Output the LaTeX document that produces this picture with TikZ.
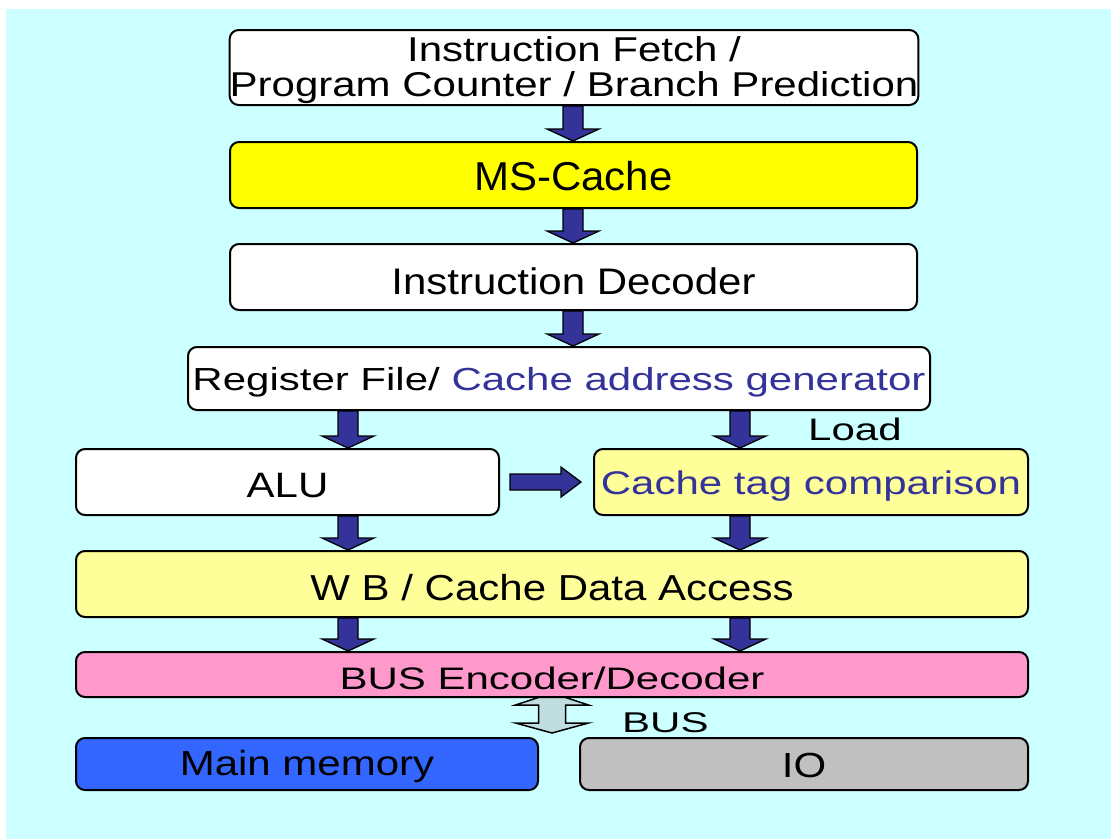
\documentclass[tikz,border=0pt]{standalone}
\usepackage{fontspec}
\setmainfont{Liberation Sans}
\usepackage{graphicx}
\usetikzlibrary{calc}

\definecolor{bgcyan}{HTML}{CCFFFF}
\definecolor{arrowblue}{HTML}{333399}
\definecolor{textblue}{HTML}{333399}
\definecolor{paleyellow}{HTML}{FFFF99}
\definecolor{brightyellow}{HTML}{FFFF00}
\definecolor{pinkfill}{HTML}{FF99CC}
\definecolor{memblue}{HTML}{3366FF}
\definecolor{iogray}{HTML}{C0C0C0}
\definecolor{busfill}{HTML}{C0DEDF}

% vertically squeezed label, lowered by #1 in its box (box size unchanged)
\newcommand\vs[3][4pt]{\raisebox{-#1}[\height][\depth]{\scalebox{1}[#2]{#3}}}
% vertically squeezed free label
\newcommand\vl[2]{\scalebox{1}[#1]{#2}}

% block arrow pointing down, from the bottom of #1 to the top of #2, at the x of #3
\newcommand\downblock[3]{%
  \draw[blockarrow]
    ($(#1.south -| #3)+(-10,0)$) -- ($(#1.south -| #3)+(10,0)$)
    -- ($(#2.north -| #3)+(10,-12)$) -- ($(#2.north -| #3)+(26,-12)$)
    -- (#2.north -| #3)
    -- ($(#2.north -| #3)+(-26,-12)$) -- ($(#2.north -| #3)+(-10,-12)$)
    -- cycle;}

\begin{document}
\begin{tikzpicture}[x=1pt,y=-1pt,
  box/.style={draw, line width=2pt, rounded corners=9pt, inner sep=0pt,
    minimum height=66pt, font=\fontsize{42}{42}\selectfont},
  blockarrow/.style={fill=arrowblue, draw=black, line width=1.3pt, line join=miter},
  busarrow/.style={fill=busfill, draw=black, line width=1.5pt, line join=miter},
  plainlabel/.style={inner sep=0pt, anchor=base west, font=\fontsize{42}{42}\selectfont},
]
\useasboundingbox (0,0) rectangle (1111,839);
\fill[white] (0,0) rectangle (1111,839);
\fill[bgcyan] (6,9) rectangle (1111,839);

% x positions of the block arrows
\coordinate (mid) at (573,0);
\coordinate (lc) at (348,0);
\coordinate (rc) at (740,0);

% bus double arrow (its upper tip is hidden under the encoder box)
\coordinate (bustop) at (552,693);
\draw[busarrow] (bustop) -- ++(36.5,12) -- ++(-23,0) -- ++(0,18) -- ++(23,0)
  -- ++(-36.5,10) -- ++(-36.5,-10) -- ++(23,0) -- ++(0,-18) -- ++(-23,0) -- cycle;

% pipeline stages
\node[box, fill=white, minimum width=688pt, minimum height=75pt] (fetch) at (574,67.5)
  {\vs{0.82}{\begin{tabular}{@{}c@{}}Instruction Fetch /\\Program Counter / Branch Prediction\end{tabular}}};
\node[box, fill=brightyellow, minimum width=687pt] (mscache) at (573.5,175) {\vs[1.5pt]{0.96}{MS-Cache}};
\node[box, fill=white, minimum width=687pt] (decoder) at (573.5,277) {\vs{0.88}{Instruction Decoder}};
\node[box, fill=white, minimum width=742pt, minimum height=63pt] (regfile) at (559,378.5)
  {\vs{0.76}{Register File/ \textcolor{textblue}{Cache address generator}}};
\node[box, fill=white, minimum width=423pt] (alu) at (287.5,482) {\vs{0.84}{ALU}};
\node[box, fill=paleyellow, minimum width=434pt] (tag) at (811,482)
  {\vs{0.78}{\textcolor{textblue}{Cache tag comparison}}};
\node[box, fill=paleyellow, minimum width=952pt] (wb) at (552,584) {\vs{0.86}{W B / Cache Data Access}};
\node[box, fill=pinkfill, minimum width=952pt, minimum height=45pt] (encdec) at (552,674.5)
  {\vs{0.74}{BUS Encoder/Decoder}};
\node[box, fill=memblue, minimum width=462pt, minimum height=52pt] (mem) at (307,764) {\vs[2.5pt]{0.83}{Main memory}};
\node[box, fill=iogray, minimum width=448pt, minimum height=52pt] (io) at (804,764) {\vs[1.5pt]{0.83}{IO}};

% labels
\node[plainlabel] (load) at (808,440) {\vl{0.74}{Load}};
\node[plainlabel] (bus) at (622,732) {\vl{0.68}{BUS}};

% flow arrows
\downblock{fetch}{mscache}{mid}
\downblock{mscache}{decoder}{mid}
\downblock{decoder}{regfile}{mid}
\downblock{regfile}{alu}{lc}
\downblock{regfile}{tag}{rc}
\downblock{alu}{wb}{lc}
\downblock{tag}{wb}{rc}
\downblock{wb}{encdec}{lc}
\downblock{wb}{encdec}{rc}

% ALU to tag comparison
\draw[blockarrow] ($(alu.east)+(10,-8)$) -- ($(tag.west)+(-32,-8)$) -- ($(tag.west)+(-32,-15)$)
  -- ($(tag.west)+(-12,0)$) -- ($(tag.west)+(-32,15)$) -- ($(tag.west)+(-32,8)$)
  -- ($(alu.east)+(10,8)$) -- cycle;
\end{tikzpicture}
\end{document}
